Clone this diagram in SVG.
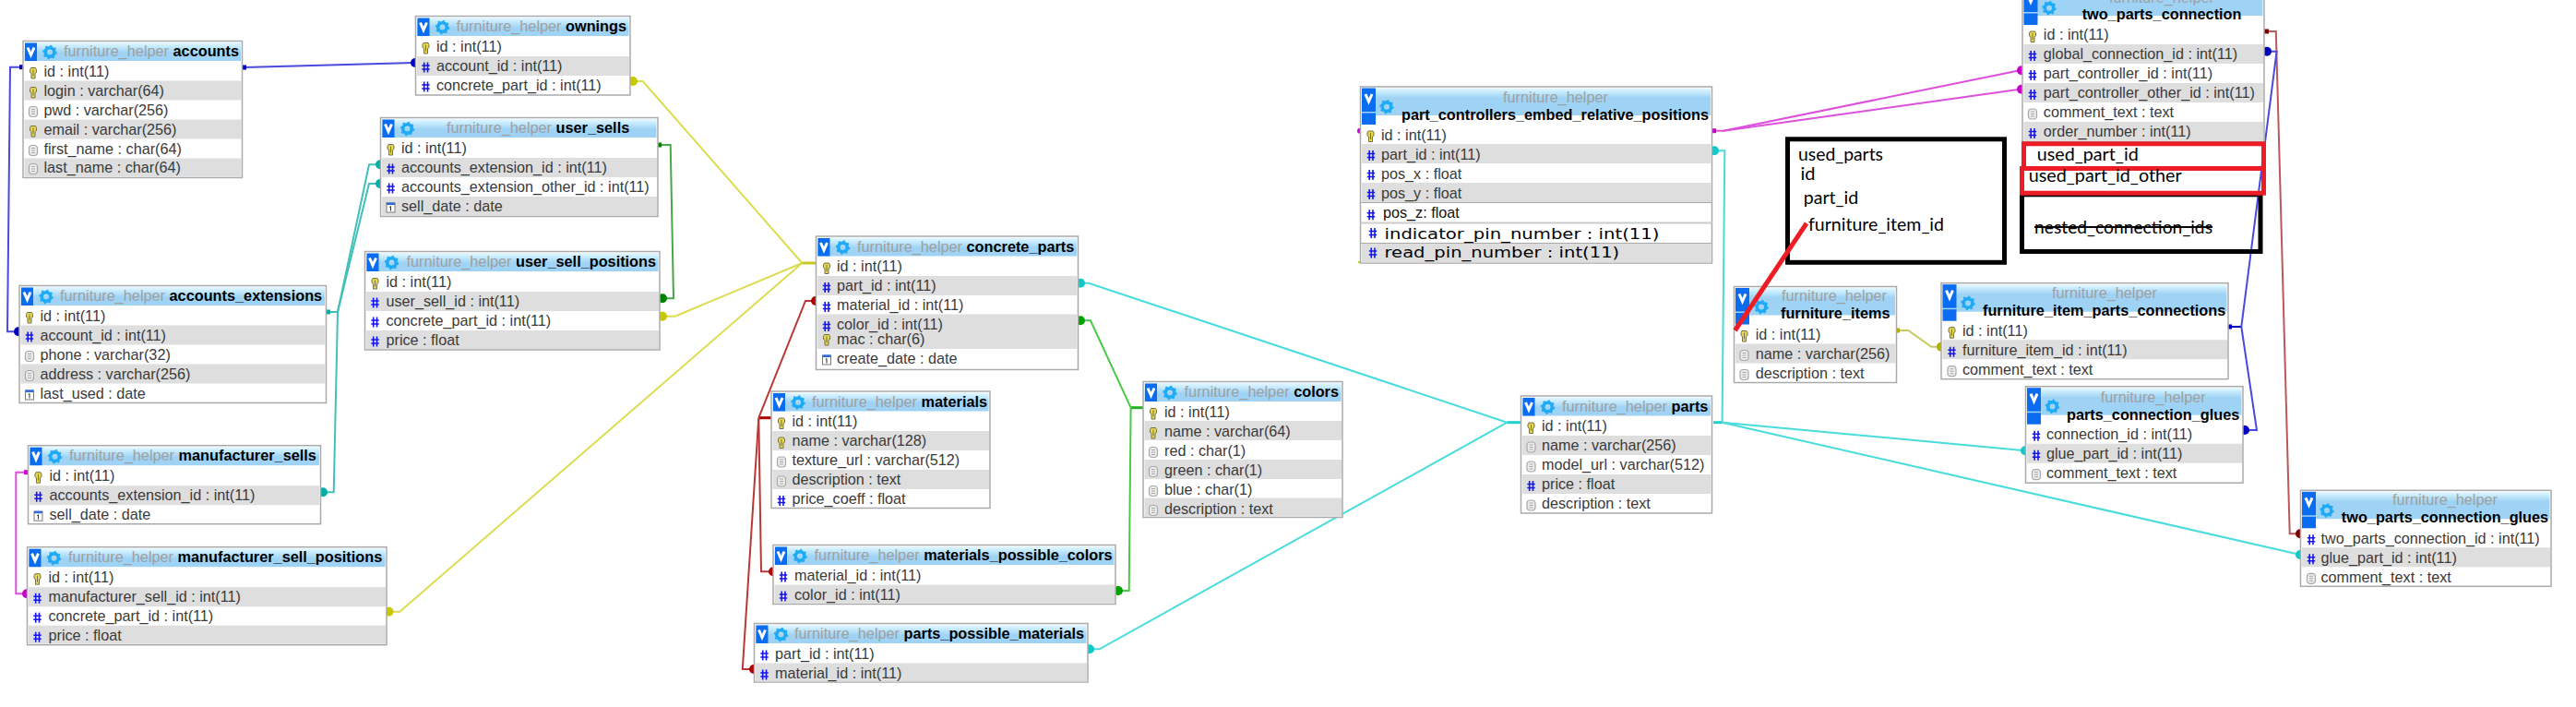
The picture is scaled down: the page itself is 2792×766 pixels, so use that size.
<svg xmlns="http://www.w3.org/2000/svg" width="2792" height="766" viewBox="0 0 2792 766">
<style>
text{font-family:"Liberation Sans",Arial,sans-serif;font-size:16.2px;fill:#3a3a3a}
.th{fill:#a0a0a0;font-size:16.3px}
.tb{fill:#000;font-weight:bold;font-size:16.3px}
.c{text-anchor:middle}
.bd{fill:#fff;stroke:#aaa;stroke-width:1.5}
.r{fill:#dedede}
.v{fill:#0a6cf0}
.vm{fill:none;stroke:#fff;stroke-width:3}
.band{fill:url(#gs)}
.bandt{fill:url(#gt)}
.an{font-family:Lato,"Open Sans",sans-serif;font-size:20px;fill:#000}
.wd{font-family:"DejaVu Sans",sans-serif;font-size:16px;fill:#000}
.box{fill:none;stroke:#000;stroke-width:5}
.rbox{fill:none;stroke:#ee1c25;stroke-width:5}
#conn path{fill:none;stroke-width:2}
.cb{stroke:#4a4ae0}.ct{stroke:#40c0b8}.cy{stroke:#dcdc50}.cg{stroke:#48a848}.cr{stroke:#b83838}.cl{stroke:#48c848}.cc{stroke:#48dcdc}.cm{stroke:#dc50dc}.co{stroke:#c8c860}.cd{stroke:#b85858}
</style>
<defs>
<linearGradient id="gs" x1="0" y1="0" x2="0" y2="1"><stop offset="0" stop-color="#e8f7ff"/><stop offset=".2" stop-color="#c8ecfd"/><stop offset=".55" stop-color="#9fd3f5"/><stop offset="1" stop-color="#9fd3f5"/></linearGradient>
<linearGradient id="gt" x1="0" y1="0" x2="0" y2="1"><stop offset="0" stop-color="#e8f7ff"/><stop offset=".13" stop-color="#c8ecfd"/><stop offset=".36" stop-color="#9fd3f5"/><stop offset="1" stop-color="#9fd3f5"/></linearGradient>
<g id="k"><path d="M-2.5-5.5h5l1 2v3l-1.5 1v5.5h-4v-5.5l-1.5-1v-3z" fill="#e6d84e" stroke="#76704a" stroke-width="1"/><path d="M0-3.5v7" stroke="#76704a" stroke-width="1"/></g>
<g id="h" fill="none" stroke="#1414f0" stroke-width="1.6"><path d="M-1.8-5.5v11M2-5.5v11M-4.2-2h8.4M-4.2 2h8.4"/></g>
<g id="d"><rect x="-4.5" y="-5.5" width="9" height="11" rx="3" fill="#ececec" stroke="#a8a8a8" stroke-width="1.2"/><path d="M-2-2.5h4M-2 0h4M-2 2.5h4" stroke="#a8a8a8"/></g>
<g id="c"><rect x="-4.5" y="-5" width="9" height="10" fill="#fff" stroke="#7a7a7a"/><rect x="-4.5" y="-5.5" width="9" height="2.5" fill="#2a6ce0"/><path d="M0-1.5v5M-1.2-.5l1.2-1" stroke="#333" fill="none"/></g>
<g id="g"><circle r="4.8" fill="none" stroke="#1eaaf4" stroke-width="3.6"/><circle r="7" fill="none" stroke="#1eaaf4" stroke-width="1.6" stroke-dasharray="2.2 3.3"/></g>
<marker id="sb" markerUnits="userSpaceOnUse" markerWidth="6" markerHeight="6" refX="3" refY="3"><rect width="5" height="5" y=".5" fill="#0000c0"/></marker>
<marker id="st" markerUnits="userSpaceOnUse" markerWidth="6" markerHeight="6" refX="3" refY="3"><rect width="5" height="5" y=".5" fill="#00b0a8"/></marker>
<marker id="sg" markerUnits="userSpaceOnUse" markerWidth="6" markerHeight="6" refX="3" refY="3"><rect width="5" height="5" y=".5" fill="#008000"/></marker>
<marker id="sm" markerUnits="userSpaceOnUse" markerWidth="6" markerHeight="6" refX="3" refY="3"><rect width="5" height="5" y=".5" fill="#d000d0"/></marker>
<marker id="so" markerUnits="userSpaceOnUse" markerWidth="6" markerHeight="6" refX="3" refY="3"><rect width="5" height="5" y=".5" fill="#b0b000"/></marker>
<marker id="sd" markerUnits="userSpaceOnUse" markerWidth="6" markerHeight="6" refX="3" refY="3"><rect width="5" height="5" y=".5" fill="#800000"/></marker>
<marker id="db" markerUnits="userSpaceOnUse" markerWidth="12" markerHeight="12" refX="6" refY="6"><circle cx="6" cy="6" r="5" fill="#0000c0"/></marker>
<marker id="dt" markerUnits="userSpaceOnUse" markerWidth="12" markerHeight="12" refX="6" refY="6"><circle cx="6" cy="6" r="5" fill="#00b0a8"/></marker>
<marker id="dy" markerUnits="userSpaceOnUse" markerWidth="12" markerHeight="12" refX="6" refY="6"><circle cx="6" cy="6" r="5" fill="#c8c800"/></marker>
<marker id="dg" markerUnits="userSpaceOnUse" markerWidth="12" markerHeight="12" refX="6" refY="6"><circle cx="6" cy="6" r="5" fill="#008000"/></marker>
<marker id="dr" markerUnits="userSpaceOnUse" markerWidth="12" markerHeight="12" refX="6" refY="6"><circle cx="6" cy="6" r="5" fill="#b00000"/></marker>
<marker id="dl" markerUnits="userSpaceOnUse" markerWidth="12" markerHeight="12" refX="6" refY="6"><circle cx="6" cy="6" r="5" fill="#00a000"/></marker>
<marker id="dc" markerUnits="userSpaceOnUse" markerWidth="12" markerHeight="12" refX="6" refY="6"><circle cx="6" cy="6" r="5" fill="#10c8c8"/></marker>
<marker id="dm" markerUnits="userSpaceOnUse" markerWidth="12" markerHeight="12" refX="6" refY="6"><circle cx="6" cy="6" r="5" fill="#c800c8"/></marker>
<marker id="do" markerUnits="userSpaceOnUse" markerWidth="12" markerHeight="12" refX="6" refY="6"><circle cx="6" cy="6" r="5" fill="#b0b000"/></marker>
<marker id="dd" markerUnits="userSpaceOnUse" markerWidth="12" markerHeight="12" refX="6" refY="6"><circle cx="6" cy="6" r="5" fill="#800000"/></marker>
</defs>
<rect width="2792" height="766" fill="#fff"/>
<g id="conn">
<path class="cb" marker-start="url(#sb)" marker-end="url(#db)" d="M24 72.7H11L8 359.3H20"/>
<path class="cb" marker-start="url(#sb)" marker-end="url(#db)" d="M265 73L448 68H450"/>
<path class="ct" marker-start="url(#st)" d="M356 338H366"/>
<path class="ct" marker-end="url(#dt)" d="M366 338L400 178.3H412"/>
<path class="ct" marker-end="url(#dt)" d="M366 338L400 199H412"/>
<path class="ct" marker-end="url(#dt)" d="M366 338L361.7 533.3H350"/>
<path class="cm" marker-start="url(#sm)" marker-end="url(#dm)" d="M29 511.7H17.3V643.3H29"/>
<path class="cy" marker-start="url(#dy)" d="M686 88H696.7L869.4 285"/>
<path class="cy" marker-start="url(#dy)" d="M718 342.7H731.7L869.4 285"/>
<path class="cy" marker-start="url(#dy)" d="M421.5 662.7H433.3L869.4 285"/>
<path class="cy" stroke-width="3" d="M869.4 285H885" style="stroke:#c8c820;stroke-width:3"/>
<path class="cg" marker-start="url(#sg)" marker-end="url(#dg)" d="M715 157H726.7L730 323.3H718"/>
<path class="cr" d="M836 452.7H822.3" style="stroke:#b00000;stroke-width:3"/>
<path class="cr" marker-end="url(#dr)" d="M822.3 452.7L873 326H884"/>
<path class="cr" marker-end="url(#dr)" d="M822.3 452.7L825 619.3H838"/>
<path class="cr" marker-end="url(#dr)" d="M822.3 452.7L804.8 725H817"/>
<path class="cl" d="M1239 441.7H1225.6" style="stroke:#20b020;stroke-width:3"/>
<path class="cl" marker-end="url(#dl)" d="M1225.6 441.7L1182 347.3H1171"/>
<path class="cl" marker-end="url(#dl)" d="M1225.6 441.7L1223.7 640H1212"/>
<path class="cc" d="M1633.5 457.7H1648" style="stroke:#20d0d0;stroke-width:3"/>
<path class="cc" d="M1857 457.7H1866.6" style="stroke:#20d0d0;stroke-width:3"/>
<path class="cc" marker-end="url(#dc)" d="M1633.5 457.7L1180 306.7H1171"/>
<path class="cc" marker-end="url(#dc)" d="M1633.5 457.7L1191.6 703.3H1181"/>
<path class="cc" marker-end="url(#dc)" d="M1866.6 457.7L1869.3 163.3H1858"/>
<path class="cc" marker-end="url(#dc)" d="M1866.6 457.7L2195 488.3"/>
<path class="cc" marker-end="url(#dc)" d="M1866.6 457.7L2493 601"/>
<path class="cm" marker-start="url(#sm)" d="M1858 141.7H1868"/>
<path class="cm" marker-end="url(#dm)" d="M1868 141.7L2189 76.3H2191"/>
<path class="cm" marker-end="url(#dm)" d="M1868 141.7L2189 96.7H2191"/>
<circle cx="1474" cy="141.7" r="3" fill="#d000d0"/>
<rect x="1472" y="283" width="2" height="2" fill="#c8c800"/>
<path class="co" marker-start="url(#so)" marker-end="url(#do)" d="M2057 358H2068.3L2093.3 375.7H2104"/>
<path class="cd" marker-start="url(#sd)" marker-end="url(#dd)" d="M2457 34H2466.8L2481.7 578.3H2493"/>
<path class="cb" marker-start="url(#sb)" d="M2417 354H2429.3" style="stroke:#0000c0"/>
<path class="cb" marker-end="url(#db)" d="M2429.3 354L2467.6 55.7H2457"/>
<path class="cb" marker-end="url(#db)" d="M2429.3 354L2446 466H2433"/>
</g>
<g id="accounts" transform="translate(25,44.5)"><rect class="bd" width="237.5" height="148"/><rect class="band" x="1.5" y="1.5" width="234.5" height="20"/><rect class="v" x="2" y="2" width="13" height="19.5"/><path class="vm" d="M5 7L8.5 15L12 7"/><use href="#g" x="29" y="12"/><text x="44" y="16.5"><tspan class="th">furniture_helper</tspan> <tspan class="tb">accounts</tspan></text>
<rect class="r" x="1.5" y="43" width="235" height="21"/><rect class="r" x="1.5" y="85" width="235" height="21"/><rect class="r" x="1.5" y="127" width="235" height="20"/>
<use href="#k" x="11" y="34.5"/><use href="#k" x="11" y="55.5"/><use href="#d" x="11" y="76.5"/><use href="#k" x="11" y="97.5"/><use href="#d" x="11" y="118.5"/><use href="#d" x="11" y="138.5"/>
<text x="22.5" y="38">id : int(11)</text><text x="22.5" y="59">login : varchar(64)</text><text x="22.5" y="80">pwd : varchar(256)</text><text x="22.5" y="101">email : varchar(256)</text><text x="22.5" y="122">first_name : char(64)</text><text x="22.5" y="142">last_name : char(64)</text></g>
<g id="accounts_extensions" transform="translate(21,309.5)"><rect class="bd" width="332.5" height="127"/><rect class="band" x="1.5" y="1.5" width="329.5" height="20"/><rect class="v" x="2" y="2" width="13" height="19.5"/><path class="vm" d="M5 7L8.5 15L12 7"/><use href="#g" x="29" y="12"/><text x="44" y="16.5"><tspan class="th">furniture_helper</tspan> <tspan class="tb">accounts_extensions</tspan></text>
<rect class="r" x="1.5" y="43" width="330" height="21"/><rect class="r" x="1.5" y="85" width="330" height="21"/>
<use href="#k" x="11" y="34.5"/><use href="#h" x="11" y="55.5"/><use href="#d" x="11" y="76.5"/><use href="#d" x="11" y="97.5"/><use href="#c" x="11" y="118.5"/>
<text x="22.5" y="38">id : int(11)</text><text x="22.5" y="59">account_id : int(11)</text><text x="22.5" y="80">phone : varchar(32)</text><text x="22.5" y="101">address : varchar(256)</text><text x="22.5" y="122">last_used : date</text></g>
<g id="ownings" transform="translate(450.5,17.5)"><rect class="bd" width="232.5" height="85.5"/><rect class="band" x="1.5" y="1.5" width="229.5" height="20"/><rect class="v" x="2" y="2" width="13" height="19.5"/><path class="vm" d="M5 7L8.5 15L12 7"/><use href="#g" x="29" y="12"/><text x="44" y="16.5"><tspan class="th">furniture_helper</tspan> <tspan class="tb">ownings</tspan></text>
<rect class="r" x="1.5" y="43.5" width="230" height="21"/>
<use href="#k" x="11" y="34.5"/><use href="#h" x="11" y="55.5"/><use href="#h" x="11" y="76.5"/>
<text x="22.5" y="38">id : int(11)</text><text x="22.5" y="59">account_id : int(11)</text><text x="22.5" y="80">concrete_part_id : int(11)</text></g>
<g id="user_sells" transform="translate(412.5,127.5)"><rect class="bd" width="300.5" height="107"/><rect class="band" x="1.5" y="1.5" width="297.5" height="20"/><rect class="v" x="2" y="2" width="13" height="19.5"/><path class="vm" d="M5 7L8.5 15L12 7"/><use href="#g" x="29" y="12"/><text x="71.5" y="16.5"><tspan class="th">furniture_helper</tspan> <tspan class="tb">user_sells</tspan></text>
<rect class="r" x="1.5" y="43.5" width="298" height="21"/><rect class="r" x="1.5" y="85.5" width="298" height="21"/>
<use href="#k" x="11" y="34.5"/><use href="#h" x="11" y="55.5"/><use href="#h" x="11" y="76.5"/><use href="#c" x="11" y="97.5"/>
<text x="22.5" y="38">id : int(11)</text><text x="22.5" y="59">accounts_extension_id : int(11)</text><text x="22.5" y="80">accounts_extension_other_id : int(11)</text><text x="22.5" y="101">sell_date : date</text></g>
<g id="user_sell_positions" transform="translate(395.5,272.5)"><rect class="bd" width="319.5" height="106.5"/><rect class="band" x="1.5" y="1.5" width="316.5" height="20"/><rect class="v" x="2" y="2" width="13" height="19.5"/><path class="vm" d="M5 7L8.5 15L12 7"/><use href="#g" x="29" y="12"/><text x="45" y="16.5"><tspan class="th">furniture_helper</tspan> <tspan class="tb">user_sell_positions</tspan></text>
<rect class="r" x="1.5" y="43.5" width="317" height="21"/><rect class="r" x="1.5" y="85.5" width="317" height="20"/>
<use href="#k" x="11" y="34.5"/><use href="#h" x="11" y="55.5"/><use href="#h" x="11" y="76.5"/><use href="#h" x="11" y="97.5"/>
<text x="23" y="38">id : int(11)</text><text x="23" y="59">user_sell_id : int(11)</text><text x="23" y="80">concrete_part_id : int(11)</text><text x="23" y="101">price : float</text></g>
<g id="manufacturer_sells" transform="translate(30.5,482.7)"><rect class="bd" width="317" height="85"/><rect class="band" x="1.5" y="1.5" width="314" height="20"/><rect class="v" x="2" y="2" width="13" height="19.5"/><path class="vm" d="M5 7L8.5 15L12 7"/><use href="#g" x="29" y="12"/><text x="44.5" y="16.5"><tspan class="th">furniture_helper</tspan> <tspan class="tb">manufacturer_sells</tspan></text>
<rect class="r" x="1.5" y="43.5" width="314.5" height="21"/>
<use href="#k" x="11" y="34.5"/><use href="#h" x="11" y="55.5"/><use href="#c" x="11" y="76.5"/>
<text x="23" y="38">id : int(11)</text><text x="23" y="59">accounts_extension_id : int(11)</text><text x="23" y="80">sell_date : date</text></g>
<g id="manufacturer_sell_positions" transform="translate(29.5,592.7)"><rect class="bd" width="389.5" height="106"/><rect class="band" x="1.5" y="1.5" width="386.5" height="20"/><rect class="v" x="2" y="2" width="13" height="19.5"/><path class="vm" d="M5 7L8.5 15L12 7"/><use href="#g" x="29" y="12"/><text x="44.5" y="16.5"><tspan class="th">furniture_helper</tspan> <tspan class="tb">manufacturer_sell_positions</tspan></text>
<rect class="r" x="1.5" y="43.5" width="387" height="21"/><rect class="r" x="1.5" y="85" width="387" height="20"/>
<use href="#k" x="11" y="34.5"/><use href="#h" x="11" y="55.5"/><use href="#h" x="11" y="76.5"/><use href="#h" x="11" y="97.5"/>
<text x="23" y="38">id : int(11)</text><text x="23" y="59">manufacturer_sell_id : int(11)</text><text x="23" y="80">concrete_part_id : int(11)</text><text x="23" y="101">price : float</text></g>
<g id="concrete_parts" transform="translate(884.5,256)"><rect class="bd" width="284" height="144.5"/><rect class="band" x="1.5" y="1.5" width="281" height="20"/><rect class="v" x="2" y="2" width="13" height="19.5"/><path class="vm" d="M5 7L8.5 15L12 7"/><use href="#g" x="29" y="12"/><text x="44.5" y="16.5"><tspan class="th">furniture_helper</tspan> <tspan class="tb">concrete_parts</tspan></text>
<rect class="r" x="1.5" y="43" width="281.5" height="21"/><rect class="r" x="1.5" y="84.5" width="281.5" height="37.5"/>
<use href="#k" x="11.5" y="34.5"/><use href="#h" x="11.5" y="55.5"/><use href="#h" x="11.5" y="76.5"/><use href="#h" x="11.5" y="97.5"/><use href="#k" x="11.5" y="112"/><use href="#c" x="11.5" y="134"/>
<text x="22.5" y="38">id : int(11)</text><text x="22.5" y="59">part_id : int(11)</text><text x="22.5" y="80">material_id : int(11)</text><text x="22.5" y="101">color_id : int(11)</text><text x="22.5" y="117">mac : char(6)</text><text x="22.5" y="138">create_date : date</text></g>
<g id="materials" transform="translate(836,424)"><rect class="bd" width="237" height="126.5"/><rect class="band" x="1.5" y="1.5" width="234" height="20"/><rect class="v" x="2" y="2" width="13" height="19.5"/><path class="vm" d="M5 7L8.5 15L12 7"/><use href="#g" x="29" y="12"/><text x="44" y="16.5"><tspan class="th">furniture_helper</tspan> <tspan class="tb">materials</tspan></text>
<rect class="r" x="1.5" y="43" width="234.5" height="21"/><rect class="r" x="1.5" y="85" width="234.5" height="21"/>
<use href="#k" x="11" y="34.5"/><use href="#k" x="11" y="55.5"/><use href="#d" x="11" y="76.5"/><use href="#d" x="11" y="97.5"/><use href="#h" x="11" y="118.5"/>
<text x="22.5" y="38">id : int(11)</text><text x="22.5" y="59">name : varchar(128)</text><text x="22.5" y="80">texture_url : varchar(512)</text><text x="22.5" y="101">description : text</text><text x="22.5" y="122">price_coeff : float</text></g>
<g id="colors" transform="translate(1239,413.5)"><rect class="bd" width="216" height="147"/><rect class="band" x="1.5" y="1.5" width="213" height="20"/><rect class="v" x="2" y="2" width="13" height="19.5"/><path class="vm" d="M5 7L8.5 15L12 7"/><use href="#g" x="29" y="12"/><text x="44.6" y="16.5"><tspan class="th">furniture_helper</tspan> <tspan class="tb">colors</tspan></text>
<rect class="r" x="1.5" y="42.5" width="213.5" height="21"/><rect class="r" x="1.5" y="84.5" width="213.5" height="21"/><rect class="r" x="1.5" y="126" width="213.5" height="20"/>
<use href="#k" x="11" y="34.5"/><use href="#k" x="11" y="55.5"/><use href="#d" x="11" y="76.5"/><use href="#d" x="11" y="97.5"/><use href="#d" x="11" y="118.5"/><use href="#d" x="11" y="139.5"/>
<text x="23" y="38">id : int(11)</text><text x="23" y="59">name : varchar(64)</text><text x="23" y="80">red : char(1)</text><text x="23" y="101">green : char(1)</text><text x="23" y="122">blue : char(1)</text><text x="23" y="143">description : text</text></g>
<g id="materials_possible_colors" transform="translate(838,590.5)"><rect class="bd" width="371" height="64"/><rect class="band" x="1.5" y="1.5" width="368" height="20"/><rect class="v" x="2" y="2" width="13" height="19.5"/><path class="vm" d="M5 7L8.5 15L12 7"/><use href="#g" x="29" y="12"/><text x="44.6" y="16.5"><tspan class="th">furniture_helper</tspan> <tspan class="tb">materials_possible_colors</tspan></text>
<rect class="r" x="1.5" y="43" width="368.5" height="20"/>
<use href="#h" x="11" y="34.5"/><use href="#h" x="11" y="55.5"/>
<text x="23" y="38">material_id : int(11)</text><text x="23" y="59">color_id : int(11)</text></g>
<g id="parts_possible_materials" transform="translate(817.5,675.5)"><rect class="bd" width="361.5" height="63.5"/><rect class="band" x="1.5" y="1.5" width="358.5" height="20"/><rect class="v" x="2" y="2" width="13" height="19.5"/><path class="vm" d="M5 7L8.5 15L12 7"/><use href="#g" x="29" y="12"/><text x="43.5" y="16.5"><tspan class="th">furniture_helper</tspan> <tspan class="tb">parts_possible_materials</tspan></text>
<rect class="r" x="1.5" y="43" width="359" height="20"/>
<use href="#h" x="11" y="34.5"/><use href="#h" x="11" y="55.5"/>
<text x="22.5" y="38">part_id : int(11)</text><text x="22.5" y="59">material_id : int(11)</text></g>
<g id="parts" transform="translate(1648.5,429)"><rect class="bd" width="207" height="127"/><rect class="band" x="1.5" y="1.5" width="204" height="20"/><rect class="v" x="2" y="2" width="13" height="19.5"/><path class="vm" d="M5 7L8.5 15L12 7"/><use href="#g" x="29" y="12"/><text x="44.5" y="16.5"><tspan class="th">furniture_helper</tspan> <tspan class="tb">parts</tspan></text>
<rect class="r" x="1.5" y="43" width="204.5" height="21"/><rect class="r" x="1.5" y="85" width="204.5" height="21"/>
<use href="#k" x="11" y="34.5"/><use href="#d" x="11" y="55.5"/><use href="#d" x="11" y="76.5"/><use href="#h" x="11" y="97.5"/><use href="#d" x="11" y="118.5"/>
<text x="22.5" y="38">id : int(11)</text><text x="22.5" y="59">name : varchar(256)</text><text x="22.5" y="80">model_url : varchar(512)</text><text x="22.5" y="101">price : float</text><text x="22.5" y="122">description : text</text></g>
<g id="part_controllers_embed_relative_positions" transform="translate(1474.5,94)"><rect class="bd" width="381" height="191"/><rect class="bandt" x="1.5" y="1.5" width="378" height="29.5"/><rect class="v" x="1.5" y="1.5" width="15" height="25.5"/><rect class="v" x="1.5" y="28.5" width="15" height="12.5"/><path class="vm" d="M5.5 8L9 16L12.5 8"/><use href="#g" x="28.5" y="21.7"/><text class="th c" x="211.5" y="17">furniture_helper</text><text class="tb" x="44.5" y="36">part_controllers_embed_relative_positions</text>
<rect class="r" x="1.5" y="62" width="378.5" height="21"/><rect class="r" x="1.5" y="104" width="378.5" height="21"/><rect class="r" x="1.5" y="170" width="378.5" height="20.5"/>
<path d="M0 125.5H381M0 169.5H381" stroke="#aaa" stroke-width="1.2"/><path d="M0 147.5H381" stroke="#ccc" stroke-width="2"/>
<use href="#k" x="11" y="53.5"/><use href="#h" x="11.5" y="74.5"/><use href="#h" x="11.5" y="95.5"/><use href="#h" x="11.5" y="116.5"/><use href="#h" x="11.5" y="138.7"/><use href="#h" x="13.5" y="158.5"/><use href="#h" x="13.5" y="180"/>
<text x="22.5" y="57.5">id : int(11)</text><text x="22.5" y="78.5">part_id : int(11)</text><text x="22.5" y="99.5">pos_x : float</text><text x="22.5" y="120.5">pos_y : float</text><text x="24.5" y="142" style="fill:#111">pos_z: float</text><text class="wd" x="26" y="165.3" textLength="298" lengthAdjust="spacingAndGlyphs">indicator_pin_number : int(11)</text><text class="wd" x="26" y="185.3" textLength="254.7" lengthAdjust="spacingAndGlyphs">read_pin_number : int(11)</text></g>
<g id="furniture_items" transform="translate(1879.5,310.5)"><rect class="bd" width="176" height="104"/><rect class="bandt" x="1.5" y="1.5" width="173" height="29.5"/><rect class="v" x="1.5" y="1.5" width="15" height="25.5"/><rect class="v" x="1.5" y="28.5" width="15" height="12.5"/><path class="vm" d="M5.5 8L9 16L12.5 8"/><use href="#g" x="29.5" y="22"/><text class="th" x="51.5" y="15.5">furniture_helper</text><text class="tb" x="50.5" y="34.5">furniture_items</text>
<rect class="r" x="1.5" y="62" width="173.5" height="21"/>
<use href="#k" x="11" y="53.5"/><use href="#d" x="11" y="74.5"/><use href="#d" x="11" y="95.5"/>
<text x="23.2" y="57.5">id : int(11)</text><text x="23.2" y="78.5">name : varchar(256)</text><text x="23.2" y="99.5">description : text</text></g>
<g id="furniture_item_parts_connections" transform="translate(2104,306.7)"><rect class="bd" width="311" height="104"/><rect class="bandt" x="1.5" y="1.5" width="308" height="29.5"/><rect class="v" x="1.5" y="1.5" width="15" height="25.5"/><rect class="v" x="1.5" y="28.5" width="15" height="12.5"/><path class="vm" d="M5.5 8L9 16L12.5 8"/><use href="#g" x="29" y="21.7"/><text class="th c" x="177" y="16">furniture_helper</text><text class="tb" x="45" y="35">furniture_item_parts_connections</text>
<rect class="r" x="1.5" y="61.5" width="308.5" height="21"/>
<use href="#k" x="11.5" y="53.5"/><use href="#h" x="11.5" y="74.5"/><use href="#d" x="11.5" y="95.5"/>
<text x="23" y="57">id : int(11)</text><text x="23" y="78">furniture_item_id : int(11)</text><text x="23" y="99">comment_text : text</text></g>
<g id="parts_connection_glues" transform="translate(2195.5,418.7)"><rect class="bd" width="235.5" height="104.5"/><rect class="bandt" x="1.5" y="1.5" width="232.5" height="29.5"/><rect class="v" x="1.5" y="1.5" width="15" height="25.5"/><rect class="v" x="1.5" y="28.5" width="15" height="12.5"/><path class="vm" d="M5.5 8L9 16L12.5 8"/><use href="#g" x="29" y="21.7"/><text class="th c" x="138.2" y="17">furniture_helper</text><text class="tb" x="44.5" y="36.3">parts_connection_glues</text>
<rect class="r" x="1.5" y="62" width="233" height="21"/>
<use href="#h" x="11.5" y="53.5"/><use href="#h" x="11.5" y="74.5"/><use href="#d" x="11.5" y="95.5"/>
<text x="22.5" y="57.5">connection_id : int(11)</text><text x="22.5" y="78.5">glue_part_id : int(11)</text><text x="22.5" y="99.5">comment_text : text</text></g>
<g id="two_parts_connection_glues" transform="translate(2493.5,531.3)"><rect class="bd" width="271.5" height="104"/><rect class="bandt" x="1.5" y="1.5" width="268.5" height="29.5"/><rect class="v" x="1.5" y="1.5" width="15" height="25.5"/><rect class="v" x="1.5" y="28.5" width="15" height="12.5"/><path class="vm" d="M5.5 8L9 16L12.5 8"/><use href="#g" x="28.5" y="21.7"/><text class="th c" x="156.5" y="16">furniture_helper</text><text class="tb" x="44.3" y="35">two_parts_connection_glues</text>
<rect class="r" x="1.5" y="62" width="269" height="21"/>
<use href="#h" x="11.5" y="53.5"/><use href="#h" x="11.5" y="74.5"/><use href="#d" x="11.5" y="95.5"/>
<text x="22" y="57.5">two_parts_connection_id : int(11)</text><text x="22" y="78.5">glue_part_id : int(11)</text><text x="22" y="99.5">comment_text : text</text></g>
<g id="two_parts_connection" transform="translate(2192,-14)"><rect class="bd" width="262" height="167.5"/><rect class="bandt" x="1.5" y="1.5" width="259" height="29.5"/><rect class="v" x="1.5" y="1.5" width="15" height="25.5"/><rect class="v" x="1.5" y="28.5" width="15" height="12.5"/><path class="vm" d="M5.5 8L9 16L12.5 8"/><use href="#g" x="29" y="22.7"/><text class="th c" x="151" y="17">furniture_helper</text><text class="tb" x="64.7" y="35">two_parts_connection</text>
<rect class="r" x="1.5" y="62" width="259.5" height="21"/><rect class="r" x="1.5" y="104" width="259.5" height="21"/><rect class="r" x="1.5" y="146" width="259.5" height="21"/>
<use href="#k" x="11" y="53.5"/><use href="#h" x="11" y="74.5"/><use href="#h" x="11" y="95.5"/><use href="#h" x="11" y="116.5"/><use href="#d" x="11" y="137.5"/><use href="#h" x="11" y="158.5"/>
<text x="22.8" y="57">id : int(11)</text><text x="22.8" y="78">global_connection_id : int(11)</text><text x="22.8" y="99">part_controller_id : int(11)</text><text x="22.8" y="120">part_controller_other_id : int(11)</text><text x="22.8" y="141">comment_text : text</text><text x="22.8" y="162">order_number : int(11)</text></g>
<g id="notes">
<rect class="box" x="1937.5" y="150.8" width="235" height="133.5"/>
<text class="an" x="1949" y="174.3" textLength="92" lengthAdjust="spacingAndGlyphs">used_parts</text>
<text class="an" x="1951.5" y="195">id</text>
<text class="an" x="1954.7" y="221" textLength="59.5" lengthAdjust="spacingAndGlyphs">part_id</text>
<text class="an" x="1960" y="250" textLength="147" lengthAdjust="spacingAndGlyphs">furniture_item_id</text>
<path d="M1958 242L1880.5 358" stroke="#ee1c25" stroke-width="5" fill="none"/>
<rect class="box" x="2191.5" y="210.8" width="258.5" height="61.7"/>
<rect class="rbox" x="2193.5" y="155.8" width="260" height="26.7"/>
<rect class="rbox" x="2191.5" y="182.5" width="262" height="26.7"/>
<text class="an" x="2207.7" y="174" textLength="110" lengthAdjust="spacingAndGlyphs">used_part_id</text>
<text class="an" x="2198.7" y="197.3" textLength="166" lengthAdjust="spacingAndGlyphs">used_part_id_other</text>
<text class="an" x="2205" y="252.7" textLength="193" lengthAdjust="spacingAndGlyphs" style="text-decoration:line-through">nested_connection_ids</text>
</g>
</svg>
